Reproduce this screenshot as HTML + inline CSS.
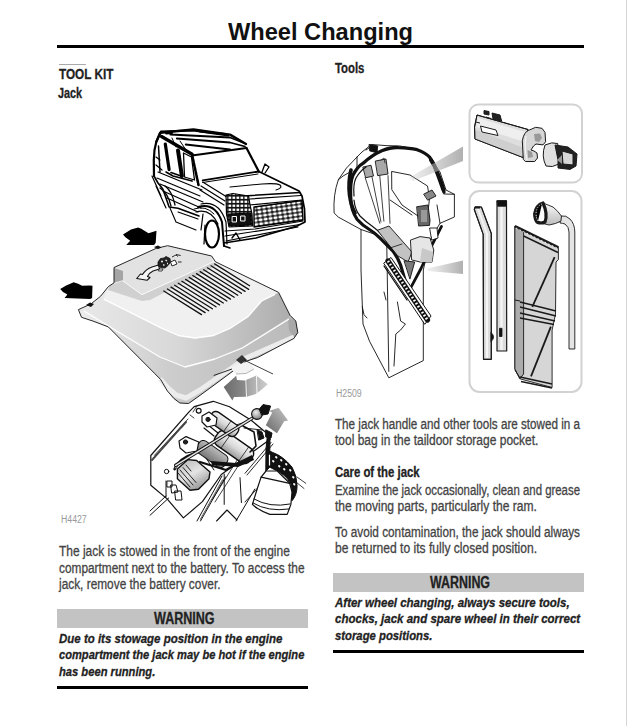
<!DOCTYPE html>
<html><head><meta charset="utf-8"><style>
html,body{margin:0;padding:0;background:#fff;width:627px;height:726px;overflow:hidden}
body{position:relative;font-family:"Liberation Sans",sans-serif}
.t div{position:absolute;white-space:nowrap;line-height:1;transform-origin:0 0;-webkit-text-stroke:0.3px currentColor}
.r{position:absolute}
svg{position:absolute;left:0;top:0}
</style></head><body>
<div class="r" style="left:57px;top:45px;width:527px;height:2.6px;background:#000"></div>
<div class="r" style="left:59px;top:64px;width:27px;height:1px;background:#aaa"></div>
<div class="r" style="left:57px;top:609px;width:250.5px;height:19px;background:#c3c3c3"></div>
<div class="r" style="left:57px;top:685.5px;width:250.5px;height:3px;background:#000"></div>
<div class="r" style="left:333px;top:573px;width:250.5px;height:19px;background:#c3c3c3"></div>
<div class="r" style="left:333px;top:649.5px;width:250.5px;height:3px;background:#000"></div>
<div class="r" style="left:625.6px;top:0;width:1.4px;height:726px;background:#d6d6d6"></div>
<svg width="627" height="726" viewBox="0 0 627 726">
<defs>
<linearGradient id="beam1" x1="0" y1="0" x2="1" y2="0"><stop offset="0" stop-color="#bbb" stop-opacity="0.2"/><stop offset="1" stop-color="#b0b0b0"/></linearGradient>
<linearGradient id="cov1" x1="0" y1="0" x2="0" y2="1"><stop offset="0" stop-color="#f4f4f4"/><stop offset="1" stop-color="#d8d8d8"/></linearGradient>
<linearGradient id="cov2" x1="0" y1="0" x2="0.3" y2="1"><stop offset="0" stop-color="#e6e6e6"/><stop offset="1" stop-color="#bdbdbd"/></linearGradient>
<linearGradient id="slope" x1="0" y1="0" x2="1" y2="0"><stop offset="0" stop-color="#e8e8e8"/><stop offset="0.45" stop-color="#d8d8d8"/><stop offset="1" stop-color="#adadad"/></linearGradient>
<linearGradient id="lip" x1="0" y1="0" x2="1" y2="0"><stop offset="0" stop-color="#ececec"/><stop offset="0.4" stop-color="#cdcdcd"/><stop offset="1" stop-color="#bababa"/></linearGradient>
<linearGradient id="rface" x1="0" y1="0" x2="1" y2="1"><stop offset="0" stop-color="#d0d0d0"/><stop offset="1" stop-color="#b4b4b4"/></linearGradient>
<linearGradient id="brace" x1="0" y1="0" x2="0" y2="1"><stop offset="0" stop-color="#fafafa"/><stop offset="1" stop-color="#bbb"/></linearGradient>
<linearGradient id="garr" x1="0" y1="0" x2="1" y2="0"><stop offset="0" stop-color="#6a6a6a"/><stop offset="0.5" stop-color="#8c8c8c"/><stop offset="0.55" stop-color="#a4a4a4"/><stop offset="1" stop-color="#cfcfcf"/></linearGradient>
<linearGradient id="garr2" x1="0" y1="1" x2="1" y2="0"><stop offset="0" stop-color="#666"/><stop offset="1" stop-color="#c8c8c8"/></linearGradient>
</defs>

<!-- ============ RIGHT FIGURE ============ -->
<g fill="none" stroke="#d2d2d2" stroke-width="2">
<rect x="469.5" y="104.5" width="112.5" height="78" rx="9"/>
<rect x="469.5" y="191" width="112" height="201" rx="10"/>
</g>

<!-- socket adapter -->
<g stroke="#1a1a1a" stroke-width="1" stroke-linejoin="round">
<path d="M477,115 L528,129.5 L523,157.5 L475,139 Q473,127 477,115Z" fill="#dedede"/>
<path d="M478,118 L527,132.5 L525.5,142 L476.5,127Z" fill="#efefef" stroke="none"/>
<path d="M476,130 L524,148 L523,157.5 L475,139Z" fill="#cfcfcf" stroke="none"/>
<path d="M477,115 L528,129.5 L523,157.5 L475,139 Q473,127 477,115Z" fill="none"/>
<path d="M484,110.6 L489,111.5 L489,115 L484,114Z M492,113 L500,115 L501.6,121 L493,119Z M486,117 L491,118.5" fill="#222"/>
<path d="M480.5,126 L496,130 L498,135.5 L482,132Z" fill="#fff"/>
<path d="M475.5,122 L480,123" />
<path d="M522.3,140.7 Q524,132 528.5,130.4 L535.7,127.3 L542,128.3 L545,132.4 L545.6,141.8 L543,144.9 L536,144 L533.5,146 L531,150 L534,151 L537,153 L537.5,158 L534.7,161.5 L525.4,161.5 L523.3,159.4Z" fill="#d6d6d6"/>
<path d="M534,134 L540,133.5 L542,138 L539,142 L535,141Z" fill="#999" stroke="none"/>
<path d="M527.5,150 L532,152 L533,157 L528,158Z" fill="#999" stroke="none"/>
<path d="M526,136 Q524,148 527,160" stroke="#f4f4f4" stroke-width="1.2" fill="none"/>
<path d="M545,145 Q552,141.5 557.7,143.5 L559,164 Q552,168 546,166 Q541,156 545,145Z" fill="#e0e0e0"/>
<path d="M555,145 L568,147 L577,154 L576,166 L570,169.4 L558,168 L558,160Z" fill="#222"/>
<path d="M562,151 L573,154 L573,165 L563,164Z" fill="#d8d8d8"/>
<path d="M557,160 L562,155 L562,164Z" fill="#999" stroke="none"/>
</g>

<!-- tools in lower box -->
<g stroke="#1a1a1a" stroke-width="0.9" stroke-linejoin="round">
<!-- bent rod -->
<path d="M474.3,209.5 L475,207 L481.4,207 L491.3,233.5 L491.3,359.3 L483.5,359.3 L483.2,234.4Z" fill="#dcdcdc"/>
<path d="M478,209 L487,234 L487,358" stroke="#f4f4f4" stroke-width="2" fill="none"/>
<path d="M474.3,209.5 L475,207 L481.4,207 L491.3,233.5 L491.3,359.3 L483.5,359.3 L483.2,234.4Z" fill="none" stroke-width="1.2"/>
<path d="M475,207.5 L480,207.5" stroke-width="2"/>
<path d="M491,332.4 Q496,337 491,341.7Z" fill="#111"/>
<!-- straight rod -->
<path d="M497,200.8 L506.5,200.8 L506.7,351 L497,351Z" fill="#dcdcdc" stroke-width="1.2"/>
<path d="M501.5,207 L501.5,350" stroke="#f4f4f4" stroke-width="2.5"/>
<path d="M497,200.8 L506.5,200.8 L506.5,206.2 L497.6,206.2Z" fill="#111"/>
<path d="M499.5,328.3 L502,328.3 L502,336.5 L499.5,336.5Z" fill="#111"/>
<!-- lever/bag -->
<path d="M514.9,226.2 L558.4,247.3 L558.4,259.7 L556,262 L555.5,314 L552.1,330 L552.1,387.5 L519.9,378.8 L514.9,368.9Z" fill="#d6d6d6"/>
<path d="M514.9,226.2 L523.6,231 L523.6,374 L519.9,378.8 L514.9,368.9Z" fill="#acacac"/>
<path d="M514.9,226.2 L558.4,247.3" stroke-width="2.6"/>
<path d="M516,228 L557,248" stroke="#fff" stroke-width="0.9" stroke-dasharray="1.5,2.5"/>
<path d="M523.6,236 L558,252.5" stroke-width="1.4"/>
<path d="M554.6,257.2 L532.3,306.8" stroke-width="1.8"/>
<path d="M520,302 L556,311 M520,307 L556,316 M520,313 L555,321 M520,318 L554,324.5" stroke-width="1.3"/>
<path d="M550.9,326.7 L531,376.3" stroke-width="1.8"/>
<path d="M520,377 L552,384 M521,381.5 L552,388" stroke-width="1.4"/>
<path d="M514.9,300 L520,301 M514.9,370 L520,378" stroke-width="1"/>
<!-- wheel brace -->
<path d="M561,216 Q566,215 570,219 Q574.8,224 574.8,232 L574.8,349 L569,349 L569,232 Q569,227 565,224 Q562,223 560,223Z" fill="#e4e4e4"/>
<path d="M543,203 L553,207 Q558,211 561.4,216 L561,221 Q556,224 549,225 L537,222Z" fill="url(#brace)"/>
<path d="M543,203 Q536,205 534.6,214 Q535,220 537,222 Q541,224 545,222 Q548,214 543,203Z" fill="#fff" stroke-width="3.2"/>
<path d="M542,204 Q536.5,206 536,214 Q536.5,219 538,221" stroke="#fff" stroke-width="0.9" stroke-dasharray="1,1.6"/>
</g>

<!-- tool bag -->
<g stroke="#111" stroke-width="0.9" fill="none" stroke-linejoin="round" stroke-linecap="round">
<!-- bag body outline -->
<path d="M357,157 L362,152 L371.5,144.5 L386,145.6 L400,146 L420,150 L432,160 L440,172 L446,190 L454.4,194.3 L454.4,217 L440,223.3 L430,240 L423.3,270 L423.3,360.6 L388.8,377.8 L369.5,341.2 L363,324 L361,270 L361,229.5 L338.3,217.1 L334.1,213 Q333,195 338.3,179.8 Q345,168 357,157Z" fill="#fff"/>
<path d="M386.7,240 L388.8,371.4" />
<path d="M361,229.5 L377,235" />
<path d="M338.3,179.8 Q342,176 350,172" />
<path d="M392,171.5 L410,175 L427.5,186 L429.5,198.4 L428,212 L418,216 L402,205 L392,190Z" fill="#fff"/>
<path d="M390,200 L412,215" />
<path d="M444,194 L454.4,194.3 M440,223.3 L437,205" />
<path d="M357,157 L357,170 M366,150 L372,146" />
<!-- top sockets -->
<path d="M363.2,167 L371,165.2 L373.5,176 L366,177.7Z" fill="#a8a8a8"/>
<path d="M375.6,161 L386,159 L388,174 L378,175.6Z" fill="#a8a8a8"/>
<path d="M369.4,144.5 L377.7,146 L377,152.8 L370,151Z" fill="#111"/>
<path d="M381,160 L384,158 L385,163" stroke-width="0.7"/>
<!-- diverging lines -->
<path d="M365.2,177.7 L379.8,223.3 M372,177 L381,222 M379.8,176 L383.9,221.2 M388,175.6 L390,223.3" stroke-width="0.8"/>
<!-- black straps -->
<path d="M350.7,198.4 Q350,182 352.8,175.6 Q357,167 363.2,163.2 Q372,155 381.8,150.7 Q392,147 398.4,147.6 Q410,148 417.1,149.7 Q426,153 429.5,157 Q434,163 435.7,169.4 Q440,178 442,183.9 L444,192.2" stroke-width="3.3"/>
<path d="M431,160 Q435,166 437,172 L443.5,190" stroke-width="4"/>
<path d="M354,196 Q353,184 356,178 Q360,171 366,167" stroke-width="1.2"/>
<path d="M350.7,198.4 Q351,210 357,219.2 Q362,225 369.4,229.5 Q375,233 379.8,237.8 Q386,244 392.2,250.3 Q397,256 400.5,264.8 L408.3,291.4" stroke-width="3.2"/>
<path d="M351,170 Q348,182 349.5,195 Q351,206 355,213" stroke-width="3.6"/>
<path d="M354,200 Q355,210 360,216 Q366,222 372,226 Q380,232 386,238" stroke-width="1.2"/>
<path d="M441.5,226.4 L432,245 L421,268.5 L410.8,287.6" stroke-width="2.8"/>
<!-- gray bar -->
<path d="M377.7,230.2 L389,226 L412,252 L408,262 L398,256Z" fill="#c2c2c2"/>
<path d="M390,248 L402,244" stroke-width="0.8"/>
<!-- light socket -->
<path d="M410.8,240 L420,236.6 L430,238 L433.8,250 L432,262.1 L420,262 L412,260Z" fill="#e6e6e6"/>
<path d="M422,248 L433,252 L432,262 L420,262Z" fill="#c8c8c8" stroke="none"/>
<!-- dark triangle -->
<path d="M404.4,260.8 L414.7,262 L410,278.7Z" fill="#7a7a7a"/>
<!-- dark socket middle -->
<path d="M417,206.7 L428,205 L430,220 L429.5,225.4 L419,226Z" fill="#666"/>
<path d="M421,210 L427,210 L427,222 L421,222Z" fill="#999" stroke="none"/>
<path d="M424,194 L432,190 L436,196 L428,200Z" fill="#888"/>
<path d="M430,228 L437,228 L438,238 L432,240Z" fill="#fff"/>
<!-- hatched strap -->
<path d="M384,263 L391,257.5 L431,316 L425,324Z" fill="#fff" stroke-width="1"/>
<path d="M388,261 L427.5,320" stroke-width="5.2"/>
<path d="M388,261 L427.5,320" stroke="#fff" stroke-width="2.6" stroke-dasharray="1.6,2" stroke-linecap="butt"/>
<path d="M384,266 L407,300" stroke-width="1.3"/>
<!-- lower bag details -->
<path d="M397.4,302 L400.6,321 L405.4,324 L400.6,330 L395.8,334 L394,366 M362.3,306.7 L364,314.7 L367,318 M384,292 L386,300" />
</g>

<!-- beams -->
<polygon points="408.8,177.7 463,146.6 463,161.1 413,181" fill="url(#beam1)"/>
<polygon points="427,268.5 463,260.5 463,274 428,271" fill="url(#beam1)"/>

<!-- ============ LEFT FIGURE ============ -->
<!-- black arrows -->
<path d="M123,234.4 L131,229.6 L138.1,227.6 L141.3,228.8 L148.5,233.2 L156.5,230.8 L155.7,242.7 L154.1,245.1 L126.2,245.1 L130.2,240.7 L125.4,237.2Z" fill="#000"/>
<path d="M60.2,289 L66.2,285.4 L73.7,282.2 L78.1,283.8 L82.1,285.8 L89.3,285.4 L92.5,285.8 L92.1,298.1 L90.1,298.9 L64.6,298.1 L67.4,294.5 L63,292.1Z" fill="#000"/>

<!-- battery cover -->
<g stroke-linejoin="round">
<path d="M114,267.5 L156.1,248.4 L167.6,245.7 L211.6,256 L215.5,261.8 L278.6,292.4 L290.1,315.4 L295.8,321.1 L297.8,332.6 L293.9,338.4 L257.6,357.5 L246.1,361.3 L215,384.4 L198,396.8 L188.5,403.5 L179.9,403 L174.1,398.7 L167.4,391 L160.7,379.6 L155,373.8 L108.3,326.9 L93,321.1 L81.5,317.3 L78.4,309.6 L91,303.9 L100.6,296.2 L108.3,286.7 L114,282.8Z" fill="#e8e8e8"/>
<path d="M114,267.5 L156.1,248.4 L167.6,245.7 L211.6,256 L215.5,261.8 L278.6,292.4 L275,294.4 L261.6,301 L248.2,316.4 L231,327.8 L213.7,335.5 L195,338 L178.3,335.5 L161.1,327.8 L138.2,316.4 L103.7,299.1 L108.3,286.7 L114,282.8Z" fill="#f0f0f0"/>
<path d="M103.7,299.1 L138.2,316.4 L161.1,327.8 L178.3,335.5 L195,338 L213.7,335.5 L231,327.8 L248.2,316.4 L261.6,301 L275,294.4 L278.6,292.4 L290.1,315.4 L288.3,318.3 L265,333 L242.4,347 L215,358 L185,366 L160,356 L120,332 L82,310 L91,303.9 L100.6,296.2Z" fill="url(#slope)"/>
<path d="M82,310 L120,332 L160,356 L185,366 L215,358 L242.4,347 L265,333 L288.3,318.3 L290.1,315.4 L295.8,321.1 L297.8,332.6 L293.9,338.4 L257.6,357.5 L246.1,361.3 L215,384.4 L198,396.8 L188.5,403.5 L179.9,403 L174.1,398.7 L167.4,391 L160.7,379.6 L155,373.8 L108.3,326.9 L93,321.1 L81.5,317.3Z" fill="url(#lip)"/>
<path d="M288,318 L295.8,321.1 L297.8,332.6 L293.9,338.4 L289,330Z" fill="#a8a8a8"/>
<path d="M114,267.5 L156.1,248.4 L167.6,245.7 L211.6,256 L213,262 L142,294.7 L123,281 L114,282.8Z" fill="#e2e2e2"/>
<path d="M110,285 L123,281 L142,294.7 L213,262 L216,266 L150,300 L142,301 L108,290Z" fill="#d0d0d0"/>
<path d="M123,281 L142,294.7 L213,262" fill="none" stroke="#fafafa" stroke-width="1"/>
<path d="M114,268 L123,271 L123,280 L114,282.8Z" fill="#a4a4a4"/>
<path d="M103.7,299.1 L138.2,316.4 L161.1,327.8 L178.3,335.5 L195,338 L213.7,335.5 L231,327.8 L248.2,316.4 L261.6,301 L275,294.4" fill="none" stroke="#fff" stroke-width="1.3"/>
<path d="M84,311 L120,333 L160,357 L185,367 L215,359 L242.4,348 L265,334 L289,319" fill="none" stroke="#fff" stroke-width="1.3"/>
<path d="M160,379 L168,388 L176,395 L186,398 L200,390 L246,358 L294,337" fill="none" stroke="#ececec" stroke-width="5"/>
<path d="M114,267.5 L156.1,248.4 L167.6,245.7 L211.6,256 L215.5,261.8 L278.6,292.4 L290.1,315.4 L295.8,321.1 L297.8,332.6 L293.9,338.4 L257.6,357.5 L246.1,361.3 L215,384.4 L198,396.8 L188.5,403.5 L179.9,403 L174.1,398.7 L167.4,391 L160.7,379.6 L155,373.8 L108.3,326.9 L93,321.1 L81.5,317.3 L78.4,309.6 L91,303.9 L100.6,296.2 L108.3,286.7 L114,282.8Z" fill="none" stroke="#111" stroke-width="0.9"/>
</g>
<!-- vents -->
<g stroke="#111" stroke-width="1.3" stroke-linecap="round">
<path d="M163.8,291 l37.7,23.6 M167.4,289 l37.7,23.6 M171,287.1 l37.7,23.6 M174.7,285.2 l37.7,23.6 M178.3,283.2 l37.7,23.6 M181.9,281.3 l37.7,23.6 M185.6,279.4 l37.7,23.6 M189.2,277.4 l37.7,23.6 M192.8,275.5 l37.7,23.6 M196.5,273.6 l37.7,23.6 M200.1,271.6 l37.7,23.6 M203.7,269.7 l37.7,23.6 M207.4,267.8 l37.7,23.6 M211,265.8 l37.7,23.6 M214.6,263.9 l35,21.8"/>
</g>
<!-- logo on cover -->
<g stroke="#111" stroke-width="1.1" stroke-linejoin="round">
<path d="M136.7,278.5 L140.5,274 L142.5,274.5 Q146,269 152,267 L158.5,265 L159.5,269 L153,271 Q149,273 147.5,276.5 L150,277.5 L147,280.3Z" fill="#f4f4f4"/>
<path d="M158,262 L160.5,258.5 L164,258 L166,256.5 L170,258.5 L170.5,262 L168,265.5 L165,268 L160.5,267.5 L158,265.5Z" fill="#222" stroke-width="0.8"/>
<path d="M161,261.5 l2,0 M165.5,260 l1.5,1 M163,265 l1.5,0 M167,263.5 l1,0" stroke="#eee" stroke-width="1.4"/>
<path d="M170.5,262 L175,260 L177,264 L172,266Z M172,257 L176,255 L178,256.5" fill="#fff" stroke-width="0.9"/>
<path d="M176,254.5 L180.7,255.5 M178,262 L181.5,262" stroke-width="0.9" fill="none"/>
<path d="M159,269 L163,269 L162,271 L158.5,271Z" fill="#fff" stroke-width="0.8"/>
</g>
<path d="M153.9,247 L158,245.5 L161.6,247.5 L158,249Z" fill="#111"/>
<path d="M86,305 L90,302.5 L94,304 L91,307Z" fill="#111"/>
<!-- fastener and line -->
<path d="M230,368 L243,362 L252,364 L254,369 L246,373.5 L236,374 Z" fill="#f2f2f2"/>
<path d="M236,374 L246,373.5 L254,369" fill="none" stroke="#999" stroke-width="0.7"/>
<path d="M236,360 L242,355 L247,360 L241,364Z" fill="#333"/>
<path d="M244,360 L273,374" stroke="#111" stroke-width="0.8"/>
<path d="M213.7,375.5 L232,369" stroke="#111" stroke-width="0.9"/>
<!-- gray arrow left -->
<path d="M223.7,387.1 L236.2,375.7 L237,380 L244.8,380.4 L256.3,375.5 L267.8,384.3 L261.1,390 L256.3,393.8 L246.7,396.7 L234,397 L232.4,400.5 L227.6,392.9Z" fill="url(#garr)"/>
<path d="M245.8,379 L246.5,397 M256.5,376 L257,394" stroke="#fff" stroke-width="0.9"/>

<!-- car -->
<defs>
<pattern id="mesh" width="5" height="4" patternUnits="userSpaceOnUse" patternTransform="rotate(-8)"><rect width="5" height="4" fill="#111"/><ellipse cx="2.5" cy="2" rx="2.2" ry="1.45" fill="#fff"/></pattern>
<pattern id="mesh2" width="4" height="4" patternUnits="userSpaceOnUse"><rect width="4" height="4" fill="#111"/><rect x="0.5" y="0.6" width="2.7" height="2.3" fill="#fff"/></pattern>
</defs>
<g stroke="#000" stroke-width="1.4" fill="none" stroke-linejoin="round" stroke-linecap="round">
<path d="M156.4,141.6 L160.2,132.7 L193.4,129.5 L230,134.6 L246,144 L246.5,148 L192.1,155.6 L161.5,136.5Z" fill="#fff" stroke="none"/>
<path d="M156.4,141.6 L160.2,132.7 L193.4,129.5 L230,134.6 L246,144" stroke-width="2.4"/>
<path d="M161,131.5 L193.4,130.5 L228,135.5" stroke-width="2.2"/>
<path d="M160.2,133 L156.4,141.6 L154.5,150 L153.8,160 L154,176" stroke-width="2.2"/>
<path d="M161.5,136.5 L192.1,154.3" stroke-width="3.4"/>
<path d="M166,133.5 L172,133 M170.4,134.5 L230,137.5 L244,143 M176.8,138.5 L230,142.5 L245,146.5 M185.7,144.5 L230,149.5" stroke-width="1.8"/>
<path d="M200,131.5 L225,134" stroke-width="2.2"/>
<path d="M172,138 L176,147 M180,141 L186,150" stroke-width="1"/>
<path d="M192.1,155.6 L246.5,148" stroke-width="2"/>
<path d="M246.5,148 L258.8,171.5" stroke-width="2.2"/>
<path d="M192.1,155 L198.5,185" stroke-width="2.6" stroke-dasharray="3,1.2"/>
<path d="M165.3,144.1 L169.1,169.6" stroke-width="3.2"/>
<path d="M178,150.5 L181.9,176" stroke-width="4"/>
<path d="M158.5,146 L160,172" stroke-width="1.5"/>
<path d="M183.5,153 L191.5,157 L194.5,180 L184.5,177Z" stroke-width="1.3"/>
<path d="M166,172 L173,176 L192.1,181.1 M171,172.5 L181,176" stroke-width="1.6"/>
<path d="M202.7,180.4 L258.8,171.5" stroke-width="1.8"/>
<path d="M202.7,182.5 L258,174" stroke-width="1"/>
<path d="M262,172 L265,164 L269,167 L265,173" fill="#fff" stroke-width="1.3"/>
<!-- body side -->
<path d="M154,176 L158,183 L162.8,189.1 L166,198 L169.1,207 L178,208.3 L199,216" stroke-width="1.6"/>
<path d="M157,178 L200,196 M160,184 L203,202 M163,191 L201,208 M167,198 L198,212 M158,172 L202,190" stroke-width="1.2"/>
<path d="M202.7,182 L226.9,197 M201,186 L225,201 M200,190 L224,205" stroke-width="1.2"/>
<path d="M160,188 Q168,193 171,206 M165,186 Q172,191 175,205" stroke-width="1.3"/>
<path d="M156,165 L162,170 M156,157 L160,160" stroke-width="1.2"/>
<!-- hood -->
<path d="M258.8,171.5 L299,191 L302,196 L304.5,209 L305,222 L297,226 L256,238 L224,243" stroke-width="1.7"/>
<path d="M226.9,197 L300,192.6" stroke-width="1.5"/>
<path d="M230,187 L262,184 Q276,183 280,185 Q283,188 276,190" stroke-width="1.1"/>
<path d="M250,199 L301,195.5" stroke-width="1.2"/>
<path d="M249,205 L302,200" stroke-width="1.2"/>
<!-- headlight cluster -->
<path d="M226,195 L233,193.5 L248.6,196 L250,205 L252,214 L252.5,226 L229,227 L226.5,214Z" fill="url(#mesh2)" stroke-width="1.2"/>
<path d="M229,214 L250.5,213 L251,225 L230,226Z" fill="#111" stroke-width="1"/>
<path d="M232.5,216.5 L236.5,216.5 L236.5,222 L232.5,222Z M241,216 L245,216 L245,221 L241,221Z" stroke="#fff" stroke-width="1"/>
<!-- grille -->
<path d="M254,207 L302,200.5 L303,220 L254,227Z" fill="url(#mesh)" stroke-width="1.4"/>
<path d="M225,231 L255,229 L303,221 M225,236 L300,224.5 M226,241 L298,227" stroke-width="1.2"/>
<path d="M232,238 L236,233 L240,240"/>
<!-- wheel -->
<path d="M198,207 Q215,202 222,222 L224,246" stroke-width="2"/>
<path d="M196,212 Q210,208 218,224" stroke-width="1.2"/>
<path d="M201,204 Q219,200 226,222 L227,244" stroke-width="1.2"/>
<path d="M194,209 Q206,205 214,214" stroke-width="1"/>
<path d="M156,186 L166,208 M152,176 L161,196" stroke-width="1.2"/>
<path d="M170,208 L176,222 L196,230 M178,212 L198,219" stroke-width="1.1"/>
<ellipse cx="212" cy="234" rx="7" ry="13.5" fill="#fff" stroke-width="2.2"/>
<path d="M205,225 L204,244 M203,214 L201,230" stroke-width="1.2"/>
<path d="M224,246 L230,248"/>
</g>

<!-- jack -->
<defs>
<linearGradient id="motor" x1="0.2" y1="0" x2="0.8" y2="1"><stop offset="0" stop-color="#bbb"/><stop offset="0.45" stop-color="#e4e4e4"/><stop offset="1" stop-color="#8a8a8a"/></linearGradient>
<linearGradient id="cylg" x1="0" y1="0" x2="0" y2="1"><stop offset="0" stop-color="#f4f4f4"/><stop offset="0.5" stop-color="#d8d8d8"/><stop offset="1" stop-color="#9a9a9a"/></linearGradient>
<linearGradient id="cylg2" x1="0" y1="0" x2="0" y2="1"><stop offset="0" stop-color="#bbb"/><stop offset="1" stop-color="#777"/></linearGradient>
<radialGradient id="knob" cx="0.4" cy="0.35" r="0.7"><stop offset="0" stop-color="#eee"/><stop offset="1" stop-color="#777"/></radialGradient>
</defs>
<g stroke="#111" stroke-width="1" stroke-linejoin="round" stroke-linecap="round" fill="none">
<!-- frame -->
<path d="M150.8,455.5 L188.8,412.1 L194.2,406.7 L213.2,401.3 L229.5,406.7 L251.2,420.3 L267.4,433.8 L270.2,439.2 L221.3,474.5 L202.4,501.6 L183.4,517.9 L167.1,498.9 L150.8,485.3Z" fill="#fff" stroke-width="1.2"/>
<path d="M154.4,455.3 L188,419" stroke-width="0.8"/>
<path d="M152,460 L186,422" stroke="#444" stroke-width="2" stroke-dasharray="1,1"/>
<path d="M168.7,498 L150,515.3 M166,496 L150,511" />
<path d="M222,476 L197,521 M225.5,477 L200.5,521" stroke-width="1"/>
<path d="M222.5,480 L200,520" stroke="#666" stroke-width="1.2" stroke-dasharray="1,1"/>
<path d="M227,510 L216.6,521 M227,510 L237,520" stroke-width="1.1"/>
<path d="M224.2,474 L224.2,504.4 M240,477.7 L241.4,502.5 M254.8,489.1 L236,521" stroke-width="1"/>
<path d="M246,446 L212,500 M249,449 L215,502" stroke-width="0.8"/>
<path d="M236,425 L251.2,420.3 M244,428 L262,430" stroke-width="0.9"/>
<!-- cylinders -->
<g transform="translate(212,454) rotate(35)"><rect x="-17" y="-7" width="34" height="14" rx="5" fill="url(#cylg2)"/></g>
<g transform="translate(234,447) rotate(35)"><rect x="-21" y="-8.5" width="42" height="17" rx="6" fill="url(#cylg)" stroke-width="1.4"/><path d="M-10,-8.5 L-10,8.5 M12,-8.5 L12,8.5" stroke-width="0.7"/></g>
<g transform="translate(224,424) rotate(35)"><rect x="-16" y="-6.5" width="32" height="13" rx="5" fill="url(#cylg)" stroke-width="1.4"/><path d="M4,-6.5 L4,6.5" stroke-width="0.7"/></g>
<path d="M211,461 L236,463 L252,455 L254,460 L238,467 L212,465Z" fill="#111" stroke="none"/>
<path d="M243,426 L254,432 L256,446 L250,452" stroke-width="1.6"/>
<path d="M204,428 L214,436 M208,425 L218,433" stroke-width="1.2"/>
<!-- plates -->
<path d="M179,441 L186,436.6 L198.7,442 L197,451 L186,453 L180,448Z" fill="#fff" stroke-width="1.2"/>
<circle cx="185.5" cy="442" r="2.1" fill="#222"/>
<path d="M202,416 L209,412 L217,418 L216,425 L207,427 L202,422Z" fill="#fff" stroke-width="1.2"/>
<circle cx="208" cy="419.4" r="2.1" fill="#222"/>
<circle cx="198.7" cy="410.7" r="2.4" fill="#fff" stroke-width="1.2"/>
<path d="M193,412 L197,406 M190,415 L194,418" stroke-width="0.8"/>
<!-- motor -->
<path d="M177.4,469 L188,459.6 L196.6,460.5 L210,472 L209,478.7 L198.5,489.2 L190,490.2 L177.4,478.7Z" fill="url(#motor)" stroke-width="1.4"/>
<path d="M178,473 L190,487 M180,470 L193,485 M183,467.5 L196,482.5 M186,465 L191,471" stroke-width="0.9"/>
<path d="M174.6,469.1 Q180,458 193.7,453.8" stroke-width="2.6"/>
<path d="M175.5,468 Q181,459 193,455.5" stroke="#ddd" stroke-width="1"/>
<path d="M200,462 L226,470 L240,462" stroke-width="2.2"/>
<path d="M206,458 L214,470" stroke-width="1"/>
<!-- brackets -->
<path d="M167.3,481 L172,481 L172,487 L167.3,487Z M171,485 L176,485 L178,492 L172,493Z M175,491 L181,491 L182,500 L176,500Z" fill="#fff" stroke-width="1"/>
<circle cx="166.6" cy="471.5" r="2.2" fill="#fff"/>
<path d="M166,481 L166,497" />
<!-- handle rod -->
<path d="M175.7,465.3 L252,418.4" stroke-width="3.4" stroke="#111"/>
<path d="M175.7,465.3 L252,418.4" stroke-width="1.4" stroke="#e4e4e4"/>
<circle cx="257" cy="414" r="5.4" fill="url(#knob)" stroke-width="1.1"/>
<path d="M259.4,409 L263,404.6 L270.6,406 L268,414 L262,415Z" fill="#111"/>
<!-- dark tire arc -->
<path d="M266,448.6 L267.3,436.2 L270,437 L269.8,451.1 L272.3,452.3 Q283,456 292.1,467.2 Q297,476 297.1,485.8 Q297,495 292.1,500.7 L290,498 Q292,490 290.9,484.6 Q288,479 286,477.1 Q280,472 277.3,471 L269.8,467.2 L266,471Z" fill="#111"/>
<path d="M276,457 l0.5,0.5 M281,460 l0.5,0.5 M286,464 l0.5,0.5 M290,470 l0.5,0.5 M293,477 l0.5,0.5 M294,484 l0.5,0.5 M279,466 l0.5,0.5 M273,461 l0.5,0.5 M284,469 l0.5,0.5" stroke="#fff" stroke-width="1.8"/>
<path d="M269.5,455 L269.5,465" stroke="#fff" stroke-width="1.2"/>
<path d="M297.1,477.1 L305.8,483.3 M296,482 L304,488.5" stroke-width="0.8"/>
<path d="M261.1,477.1 L266,471 L277.3,471 L289.7,483.3 L292,492 L290.9,504.4 L287.2,514.4 L269.8,514.4 Q258,510 252.4,504.4 L257.4,488.3Z" fill="#fff" stroke-width="1.2"/>
<path d="M261.1,477.1 L289.7,483.3" stroke-width="1.3"/>
<path d="M254,499 Q270,508 290,504 M253,503 Q268,512 289,509" stroke-width="1"/>
<path d="M271,442.4 L245,473.4 M273,444 L247,475" stroke-width="0.9"/>
<path d="M257.4,488.3 L245,502" stroke-width="0.9"/>
<path d="M257.4,430 L262,432 L264,438 L259,440Z M266,430 L272,433 L271,438 L266,437Z" fill="#111"/>
</g>
<!-- gray arrows -->
<path d="M265.8,425.3 L272.2,412.5 L269,411 L278.6,407.8 L288.1,420.5 L284.2,421.3 L277,433.3Z" fill="url(#garr2)"/>
</svg>

<div class="t">
<div style="left:228.0px;top:19.68px;font-size:24px;font-weight:bold;font-style:normal;color:#111;transform:scaleX(0.9840);-webkit-text-stroke:0">Wheel Changing</div>
<div style="left:59.2px;top:66.25px;font-size:15.3px;font-weight:bold;font-style:normal;color:#222;transform:scaleX(0.7681)">TOOL KIT</div>
<div style="left:58.3px;top:86.15px;font-size:14px;font-weight:bold;font-style:normal;color:#222;transform:scaleX(0.7735)">Jack</div>
<div style="left:334.6px;top:60.85px;font-size:14px;font-weight:bold;font-style:normal;color:#222;transform:scaleX(0.8100)">Tools</div>
<div style="left:58.5px;top:544.25px;font-size:14px;font-weight:normal;font-style:normal;color:#444;transform:scaleX(0.8547)">The jack is stowed in the front of the engine</div>
<div style="left:58.5px;top:560.85px;font-size:14px;font-weight:normal;font-style:normal;color:#444;transform:scaleX(0.8473)">compartment next to the battery. To access the</div>
<div style="left:58.5px;top:577.45px;font-size:14px;font-weight:normal;font-style:normal;color:#444;transform:scaleX(0.8471)">jack, remove the battery cover.</div>
<div style="left:153.9px;top:611.16px;font-size:16px;font-weight:bold;font-style:normal;color:#222;transform:scaleX(0.7837)">WARNING</div>
<div style="left:59.2px;top:632.00px;font-size:13px;font-weight:bold;font-style:italic;color:#222;transform:scaleX(0.8833)">Due to its stowage position in the engine</div>
<div style="left:59.2px;top:648.30px;font-size:13px;font-weight:bold;font-style:italic;color:#222;transform:scaleX(0.8554)">compartment the jack may be hot if the engine</div>
<div style="left:59.2px;top:664.80px;font-size:13px;font-weight:bold;font-style:italic;color:#222;transform:scaleX(0.8601)">has been running.</div>
<div style="left:335.0px;top:416.65px;font-size:14px;font-weight:normal;font-style:normal;color:#444;transform:scaleX(0.8328)">The jack handle and other tools are stowed in a</div>
<div style="left:335.0px;top:433.15px;font-size:14px;font-weight:normal;font-style:normal;color:#444;transform:scaleX(0.8568)">tool bag in the taildoor storage pocket.</div>
<div style="left:334.6px;top:466.12px;font-size:13.8px;font-weight:bold;font-style:normal;color:#222;transform:scaleX(0.8234)">Care of the jack</div>
<div style="left:335.0px;top:482.55px;font-size:14px;font-weight:normal;font-style:normal;color:#444;transform:scaleX(0.8142)">Examine the jack occasionally, clean and grease</div>
<div style="left:335.0px;top:498.75px;font-size:14px;font-weight:normal;font-style:normal;color:#444;transform:scaleX(0.8624)">the moving parts, particularly the ram.</div>
<div style="left:335.0px;top:524.85px;font-size:14px;font-weight:normal;font-style:normal;color:#444;transform:scaleX(0.8417)">To avoid contamination, the jack should always</div>
<div style="left:335.0px;top:541.35px;font-size:14px;font-weight:normal;font-style:normal;color:#444;transform:scaleX(0.8623)">be returned to its fully closed position.</div>
<div style="left:430.2px;top:575.06px;font-size:16px;font-weight:bold;font-style:normal;color:#222;transform:scaleX(0.7759)">WARNING</div>
<div style="left:335.2px;top:596.00px;font-size:13px;font-weight:bold;font-style:italic;color:#222;transform:scaleX(0.8848)">After wheel changing, always secure tools,</div>
<div style="left:335.2px;top:612.20px;font-size:13px;font-weight:bold;font-style:italic;color:#222;transform:scaleX(0.8860)">chocks, jack and spare wheel in their correct</div>
<div style="left:335.2px;top:628.80px;font-size:13px;font-weight:bold;font-style:italic;color:#222;transform:scaleX(0.8699)">storage positions.</div>
<div style="left:60.9px;top:514.74px;font-size:10px;font-weight:normal;font-style:normal;color:#999;transform:scaleX(0.8721);-webkit-text-stroke:0">H4427</div>
<div style="left:335.9px;top:388.74px;font-size:10px;font-weight:normal;font-style:normal;color:#999;transform:scaleX(0.8721);-webkit-text-stroke:0">H2509</div>
</div>
</body></html>
